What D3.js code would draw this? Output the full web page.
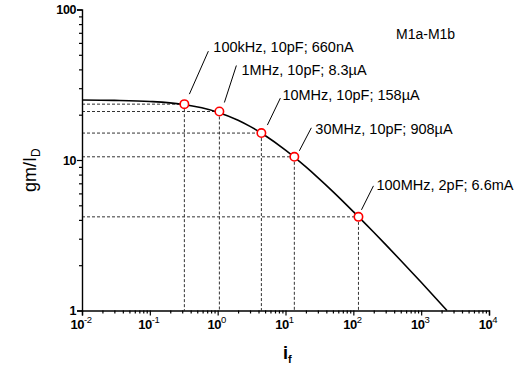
<!DOCTYPE html>
<html><head><meta charset="utf-8">
<script src="https://cdn.jsdelivr.net/npm/d3@7"></script>
<style>
html,body{margin:0;padding:0;background:#fff;}
svg{display:block;font-family:"Liberation Sans",Arial,sans-serif;}
</style></head>
<body><svg id="chart" width="520" height="370"></svg>
<script>
// ---- data ----
const curveIf   = [0.01, 0.03, 0.1, 0.3, 1, 2, 3, 5, 10, 20, 30, 50, 100, 200, 300, 500, 1000, 2400];
const curveGmId = [25.04, 24.91, 24.50, 23.46, 20.79, 18.38, 16.73, 14.55, 11.63, 8.99, 7.64, 6.17, 4.54, 3.31, 2.74, 2.15, 1.54, 1.0];
const pointIf   = [0.323, 1.06, 4.41, 13.5, 119];
const pointGmId = [23.5, 21.0, 15.1, 10.5, 4.19];
const pointLabels = ["100kHz, 10pF; 660nA", "1MHz, 10pF; 8.3\u00b5A", "10MHz, 10pF; 158\u00b5A", "30MHz, 10pF; 908\u00b5A", "100MHz, 2pF; 6.6mA"];
const xTickExp = [-2, -1, 0, 1, 2, 3, 4];
const yTickVals = [1, 10, 100];
const seriesName = "M1a-M1b";

// ---- layout ----
const X0 = 82, X1 = 489, Y0 = 310.5, Y1 = 9.5;
// leader-line offsets relative to each marker: [x1,y1,x2,y2,labelX,labelY]
const leader = [[5,-10,24,-53,29,-52],[5,-9,17,-46,22,-37],[6,-8,19,-35,21,-33],[5,-6,17,-29,21,-23],[3,-7,15,-31,18,-27]];

const svg = d3.select("#chart");
const x = d3.scaleLog().domain([1e-2, 1e4]).range([X0, X1]);
const y = d3.scaleLog().domain([1, 100]).range([Y0, Y1]);

// minor tick values
const xMinor = [], yMinor = [];
for (let e = -2; e < 4; e++) for (let k = 2; k <= 9; k++) xMinor.push(k * Math.pow(10, e));
for (let e = 0; e < 2; e++) for (let k = 2; k <= 9; k++) yMinor.push(k * Math.pow(10, e));

// dashed guides
const guides = svg.append("g").attr("stroke", "#333").attr("stroke-width", 1).attr("stroke-dasharray", "3,2").attr("fill", "none");
pointIf.forEach((v, i) => {
  const px = x(v), py = y(pointGmId[i]);
  guides.append("line").attr("x1", X0).attr("x2", px).attr("y1", py).attr("y2", py);
  guides.append("line").attr("x1", px).attr("x2", px).attr("y1", py).attr("y2", Y0);
});

// curve
const line = d3.line().x(d => x(d[0])).y(d => y(d[1])).curve(d3.curveMonotoneX);
svg.append("path").datum(curveIf.map((v, i) => [v, curveGmId[i]]))
  .attr("d", line).attr("fill", "none").attr("stroke", "#000").attr("stroke-width", 1.6);

// axes
const axG = svg.append("g");
const xMaj = axG.append("g").attr("transform", `translate(0,${Y0})`)
  .call(d3.axisBottom(x).tickValues(xTickExp.map(e => Math.pow(10, e))).tickSize(5).tickFormat(""));
const xMin = axG.append("g").attr("transform", `translate(0,${Y0})`)
  .call(d3.axisBottom(x).tickValues(xMinor).tickSize(3).tickFormat(""));
const yMaj = axG.append("g").attr("transform", `translate(${X0},0)`)
  .call(d3.axisLeft(y).tickValues(yTickVals).tickSize(5).tickFormat(""));
const yMin = axG.append("g").attr("transform", `translate(${X0},0)`)
  .call(d3.axisLeft(y).tickValues(yMinor).tickSize(3).tickFormat(""));
[xMaj, xMin, yMaj, yMin].forEach(g => {
  g.selectAll("path").attr("stroke", "#000").attr("stroke-width", 1.4);
  g.selectAll("line").attr("stroke", "#000").attr("stroke-width", 1.2);
});
xMin.select("path").remove(); yMin.select("path").remove();

// x tick labels 10^n
xTickExp.forEach(e => {
  const t = svg.append("text").attr("x", x(Math.pow(10, e)) - 1).attr("y", 329)
    .attr("text-anchor", "middle").attr("font-size", 13).attr("font-weight", "bold").attr("fill", "#000")
    .attr("letter-spacing", -0.5);
  t.append("tspan").text("10");
  t.append("tspan").attr("dy", -6).attr("font-size", 9.5).attr("font-weight", "normal").text(e < 0 ? "-" + (-e) : String(e));
});
// y tick labels
yTickVals.forEach(v => {
  svg.append("text").attr("x", 76).attr("y", y(v) + 4.5).attr("text-anchor", "end")
    .attr("font-size", 12.5).attr("font-weight", "bold").attr("fill", "#000").attr("letter-spacing", -0.4).text(String(v));
});

// axis titles
const yt = svg.append("text").attr("transform", "translate(36,192) rotate(-90)")
  .attr("font-size", 18).attr("fill", "#000");
yt.append("tspan").text("gm/I");
yt.append("tspan").attr("dy", 4).attr("font-size", 12).text("D");
const xt = svg.append("text").attr("x", 283).attr("y", 359).attr("font-size", 18).attr("font-weight", "bold").attr("fill", "#000");
xt.append("tspan").text("i");
xt.append("tspan").attr("dy", 4).attr("font-size", 11).text("f");

// series name
svg.append("text").attr("x", 396).attr("y", 38.5).attr("font-size", 14).attr("fill", "#000").text(seriesName);

// markers, leaders, labels
pointIf.forEach((v, i) => {
  const px = x(v), py = y(pointGmId[i]), o = leader[i];
  svg.append("line").attr("x1", px + o[0]).attr("y1", py + o[1]).attr("x2", px + o[2]).attr("y2", py + o[3])
    .attr("stroke", "#000").attr("stroke-width", 1);
  svg.append("text").attr("x", px + o[4]).attr("y", py + o[5]).attr("font-size", 14.5).attr("fill", "#000").text(pointLabels[i]);
});
svg.append("g").selectAll("circle").data(pointIf).join("circle")
  .attr("cx", d => x(d)).attr("cy", (d, i) => y(pointGmId[i])).attr("r", 4.2)
  .attr("fill", "#fff").attr("stroke", "#f00").attr("stroke-width", 1.6);
</script></body></html>
